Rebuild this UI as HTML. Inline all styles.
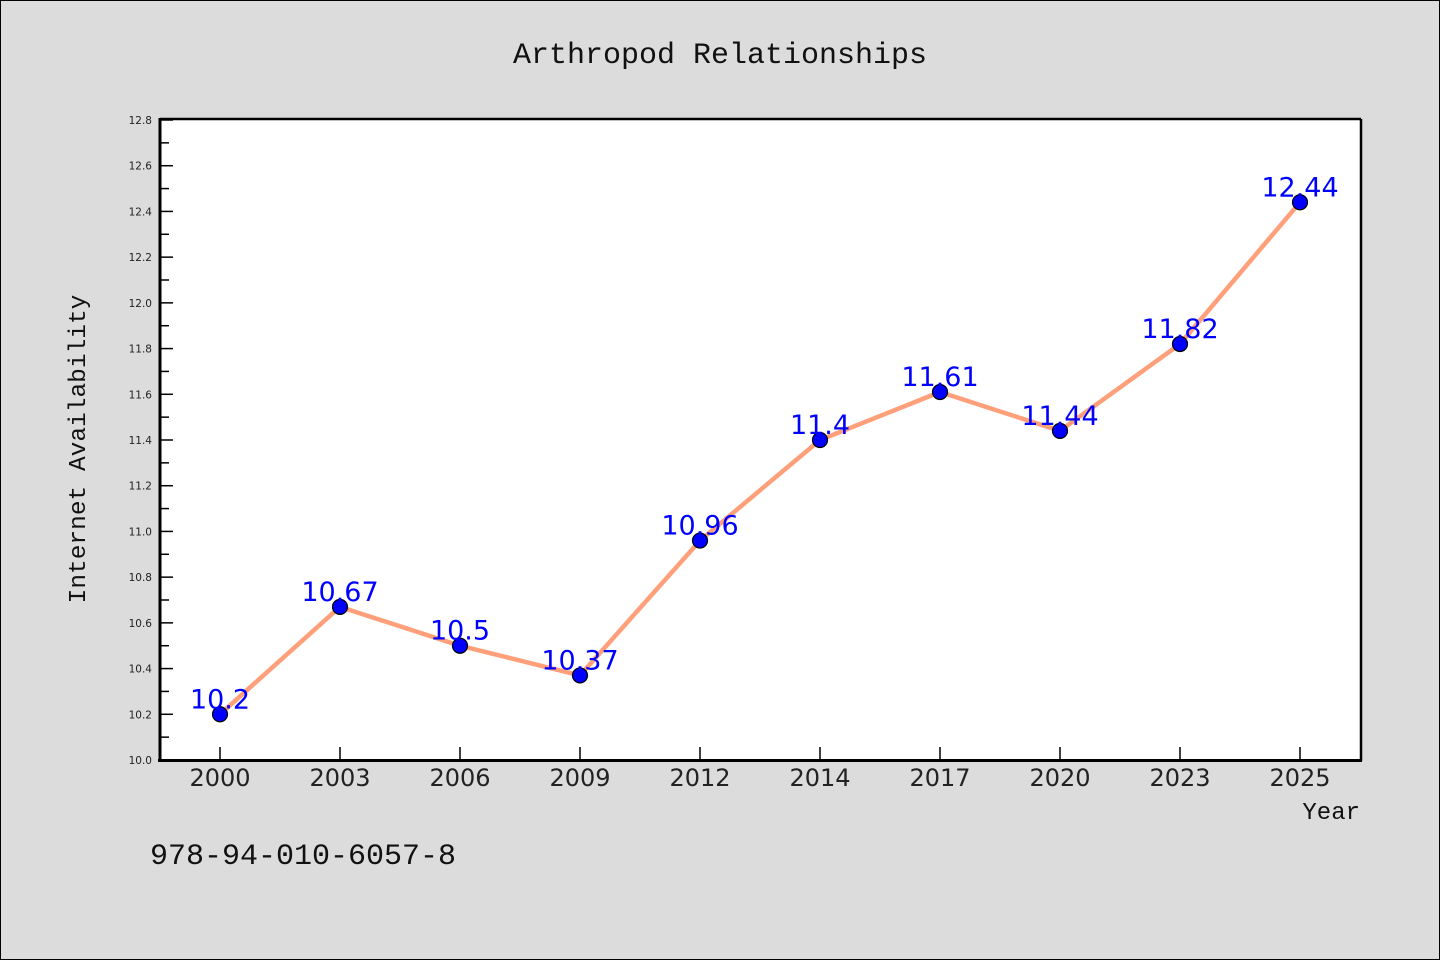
<!DOCTYPE html>
<html><head><meta charset="utf-8"><style>
body{margin:0;background:#dcdcdc;}
svg{display:block;font-family:"DejaVu Sans","Liberation Sans",sans-serif;}
.mono{font-family:"Liberation Mono","DejaVu Sans Mono",monospace;}
</style></head><body>
<svg id="c" width="1440" height="960" xmlns="http://www.w3.org/2000/svg">
<rect x="0.5" y="0.5" width="1439" height="959" fill="#dcdcdc" stroke="#000"/>
<text class="mono" x="720" y="63" font-size="30" text-anchor="middle" fill="#111">Arthropod Relationships</text>
<rect x="160" y="120" width="1200" height="640" fill="#fff"/>
<g id="yt"></g><g id="xt"></g>
<line x1="160" y1="119" x2="1361" y2="119" stroke="#000" stroke-width="2.5"/>
<line x1="1361" y1="119" x2="1361" y2="761" stroke="#000" stroke-width="2.5"/>
<line x1="160" y1="118" x2="160" y2="762" stroke="#000" stroke-width="3"/>
<line x1="158" y1="760.5" x2="1362" y2="760.5" stroke="#000" stroke-width="3"/>
<g id="series"></g>
<text class="mono" transform="translate(85,449) rotate(-90)" font-size="24.5" text-anchor="middle" fill="#111">Internet Availability</text>
<text class="mono" x="1360" y="819" font-size="24" text-anchor="end" fill="#111">Year</text>
<text class="mono" x="150" y="864" font-size="30" fill="#111">978-94-010-6057-8</text>
</svg>
<script>
const categories=["2000","2003","2006","2009","2012","2014","2017","2020","2023","2025"];
const values=[10.2,10.67,10.5,10.37,10.96,11.4,11.61,11.44,11.82,12.44];
const yTicks=[10.0,10.2,10.4,10.6,10.8,11.0,11.2,11.4,11.6,11.8,12.0,12.2,12.4,12.6,12.8];
const NS="http://www.w3.org/2000/svg";
const yMin=10.0,yMax=12.8,plotTop=120,plotBot=760,plotLeft=160,plotRight=1360;
const yS=v=>plotBot-(v-yMin)/(yMax-yMin)*(plotBot-plotTop);
const bw=(plotRight-plotLeft)/categories.length;
const xS=i=>plotLeft+bw*(i+0.5);
function mk(t,a,p){const e=document.createElementNS(NS,t);for(const k in a)e.setAttribute(k,a[k]);p.appendChild(e);return e;}
const yt=document.getElementById('yt');
yTicks.forEach((v,i)=>{
  const l=mk('line',{x1:160,x2:173,y1:yS(v),y2:yS(v),stroke:'#000','stroke-width':1.5},yt);
  
  
  if(i<yTicks.length-1){const m=mk('line',{x1:160,x2:169,y1:yS(v+0.1),y2:yS(v+0.1),stroke:'#000','stroke-width':1.5},yt);
  
  }
  const t=mk('text',{x:152,y:yS(v)+4,'font-size':10.5,'text-anchor':'end',fill:'#222'},yt);
  t.textContent=v.toFixed(1);
  
  
});
const xt=document.getElementById('xt');
categories.forEach((c,i)=>{
  const l=mk('line',{x1:xS(i),x2:xS(i),y1:760,y2:747,stroke:'#000','stroke-width':1.5},xt);
  
  
  const t=mk('text',{x:xS(i),y:786,'font-size':24,'text-anchor':'middle',fill:'#222'},xt);
  t.textContent=c;
  
  
});
const s=document.getElementById('series');
const pl=mk('polyline',{points:values.map((v,i)=>xS(i)+','+yS(v)).join(' '),fill:'none',stroke:'#ffa07a','stroke-width':4.5,'stroke-linejoin':'round'},s);


values.forEach((v,i)=>{
  const c=mk('circle',{cx:xS(i),cy:yS(v),r:7.5,fill:'#0000ff',stroke:'#000','stroke-width':1.2},s);
  
  
});
values.forEach((v,i)=>{
  const t=mk('text',{x:xS(i),y:yS(v)-6,'font-size':27,'text-anchor':'middle',fill:'#0000ff'},s);
  t.textContent=String(v);
  
  
});
</script>
</body></html>
